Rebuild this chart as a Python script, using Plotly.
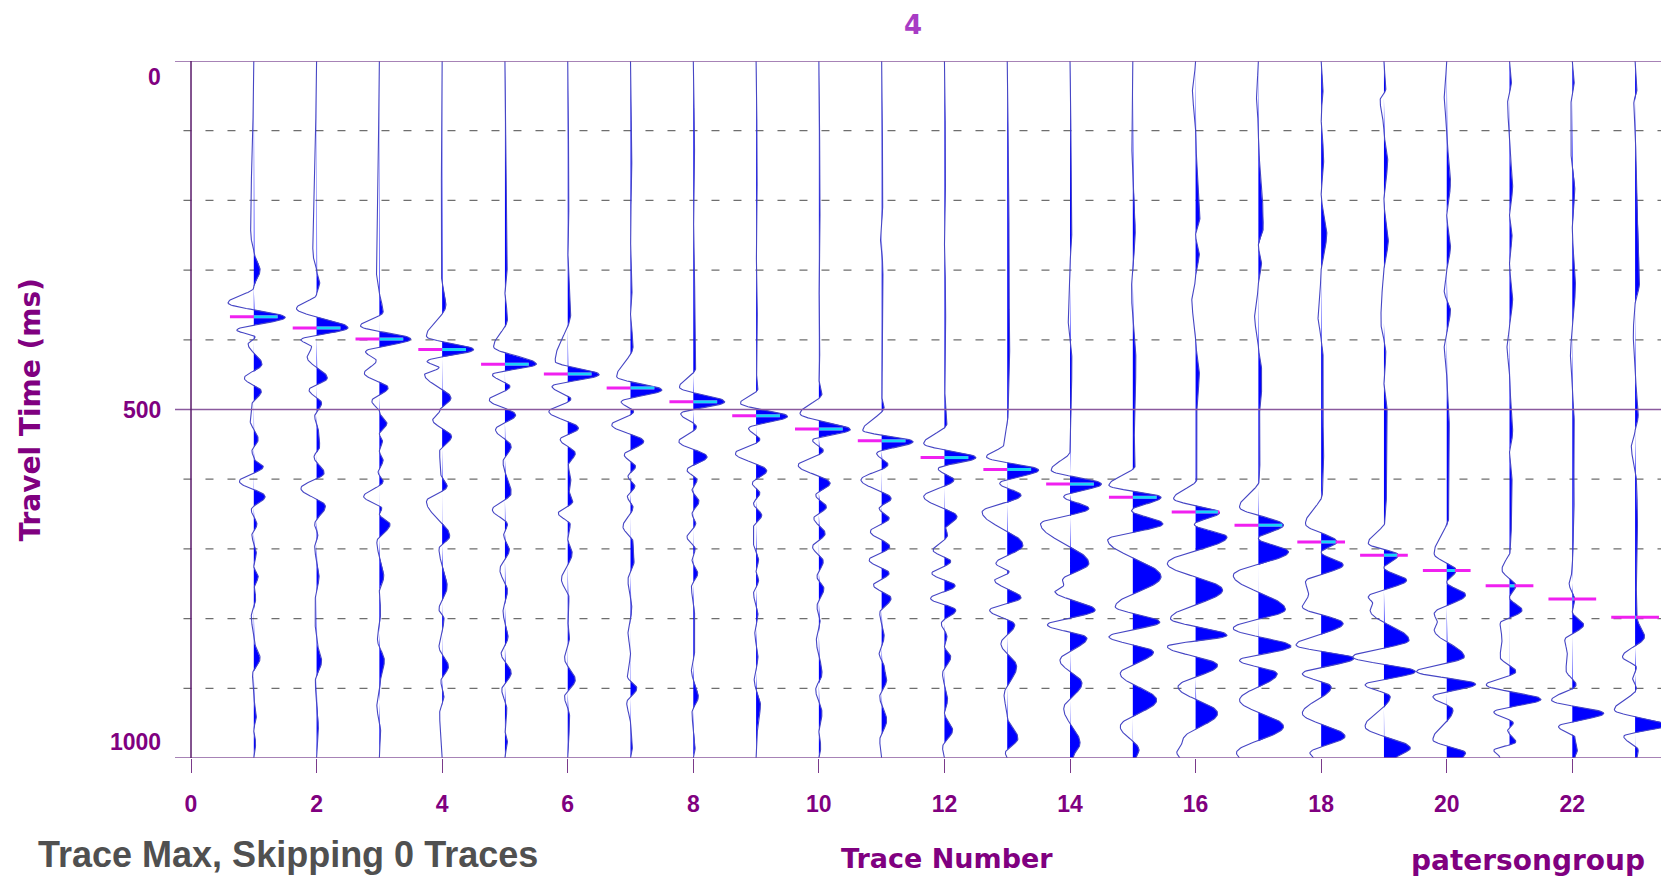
import numpy as np
import plotly.graph_objects as go

# ---------------- data ----------------
TITLE = "4"
TRACE_NUMBERS = list(range(1, 24))
# first-break pick time (ms) for each trace
PICK_TIMES = [367, 383, 399, 414, 435, 449, 469, 489, 509, 528, 545, 569,
              586, 607, 626, 647, 666, 690, 709, 731, 753, 772, 798]
X_TICKS = list(range(0, 23, 2))
Y_TICKS = [0, 500, 1000]
DASHED_TIMES = [100, 200, 300, 400, 600, 700, 800, 900]

# wiggle extrema for each trace: (time ms, amplitude in trace-spacing units)
ev01 = [(0,0),(250,-0.05),(272,0.0),(300,0.1),(325,0.0),(347,-0.41),(368,0.5),(386,-0.27),(396,0.02),(406,-0.09),(435,0.13),(455,-0.15),(474,0.12),(493,-0.03),(515,-0.06),(543,0.07),(560,-0.03),(570,0.0),(582,0.15),(603,-0.23),(625,0.18),(644,-0.04),(665,0.05),(680,-0.03),(706,0.04),(725,0.0),(740,0.07),(755,0.01),(771,0.03),(797,-0.04),(830,0.0),(857,0.1),(880,-0.02),(910,0.0),(940,0.04),(960,0.0),(979,0.03),(1000,0)]
ev02 = [(0,0),(276,-0.06),(300,0),(318,0.05),(335,0),(355,-0.32),(383,0.5),(400,-0.25),(410,-0.08),(425,-0.15),(455,0.17),(472,-0.12),(491,0.08),(510,-0.03),(530,0.03),(553,0.05),(568,-0.04),(591,0.12),(613,-0.25),(639,0.14),(665,-0.03),(680,0.02),(697,-0.03),(740,0.04),(770,-0.02),(800,-0.03),(830,0),(861,0.08),(890,-0.02),(950,0.03),(1000,0)]
ev03 = [(0,0),(300,-0.05),(330,0),(360,0.06),(380,-0.3),(399,0.5),(417,-0.22),(430,-0.05),(448,-0.24),(469,0.14),(488,-0.12),(503,0.0),(520,0.12),(535,0.0),(545,0.05),(560,0),(573,0.06),(590,-0.02),(603,0.06),(625,-0.25),(642,0.04),(650,0.0),(665,0.17),(690,-0.04),(740,0.07),(760,0.0),(790,0.02),(830,-0.03),(861,0.08),(885,0.02),(926,-0.04),(960,0.02),(1000,0)]
ev04 = [(0,0),(300,-0.02),(350,0.06),(395,-0.25),(414,0.5),(431,-0.24),(440,-0.05),(450,-0.28),(484,0.14),(500,-0.03),(515,-0.15),(539,0.15),(560,-0.04),(590,-0.03),(610,0.08),(632,-0.25),(682,0.12),(700,-0.05),(754,0.08),(787,-0.05),(800,0.03),(840,-0.05),(869,0.1),(890,-0.02),(910,0.03),(936,-0.04),(1000,0)]
ev05 = [(0,0),(290,0.04),(330,0.0),(370,0.04),(410,-0.18),(435,0.5),(450,-0.2),(467,0.08),(486,-0.25),(508,0.17),(529,-0.15),(553,0.1),(575,-0.03),(620,0.1),(644,-0.2),(665,0.04),(680,-0.02),(701,0.07),(730,-0.08),(760,0.04),(790,-0.03),(826,0.05),(850,-0.06),(878,0.1),(902,-0.05),(930,0.03),(960,0),(975,0.04),(1000,0)]
ev06 = [(0,0),(200,0.02),(260,0),(360,0.05),(431,-0.2),(450,0.5),(467,-0.25),(485,0.05),(503,-0.3),(527,0.17),(543,-0.12),(563,0.12),(580,0.01),(600,0.05),(615,0.02),(632,0.08),(649,-0.15),(665,0.04),(685,0),(706,0.07),(744,-0.1),(770,0.02),(800,0),(826,0.03),(857,-0.05),(888,0.12),(912,-0.05),(940,0.03),(970,0.02),(1000,0)]
ev07 = [(0,0),(150,0.02),(250,0),(320,0.03),(360,0),(410,0.04),(453,-0.22),(472,0.5),(489,-0.15),(503,0.05),(522,-0.3),(546,0.21),(565,-0.1),(582,0.08),(596,-0.04),(610,0.07),(625,-0.05),(640,0.04),(668,-0.12),(690,0.04),(716,0.06),(745,-0.04),(785,0.02),(820,-0.04),(850,0),(883,-0.05),(900,0.1),(921,-0.06),(950,0),(984,0.03),(1000,0)]
ev08 = [(0,0),(120,0.02),(200,0),(300,0.02),(400,0.03),(440,0.04),(468,-0.22),(489,0.5),(506,-0.2),(525,0.05),(546,-0.23),(568,0.22),(587,-0.1),(601,0.06),(615,-0.02),(632,0.09),(650,-0.02),(663,0.04),(683,-0.1),(700,0.03),(716,-0.02),(735,0.07),(755,-0.03),(790,0.02),(840,0.03),(874,-0.03),(912,0.08),(935,-0.02),(985,0.03),(1000,0)]
ev09 = [(0,0),(150,0.02),(250,0),(350,0.02),(440,0.0),(470,0.03),(491,-0.25),(510,0.5),(527,-0.12),(543,0.06),(563,-0.33),(588,0.17),(606,-0.06),(620,0.06),(635,-0.04),(652,0.09),(668,-0.04),(688,-0.05),(716,0.04),(732,0.0),(745,0.04),(764,-0.04),(793,0.03),(821,-0.02),(855,0.03),(888,-0.03),(924,0.07),(960,0.02),(1000,0)]
ev10 = [(0,0),(200,0.02),(300,0.0),(400,0.02),(455,0.0),(477,0.05),(506,-0.3),(529,0.5),(544,-0.1),(559,0.07),(580,-0.33),(606,0.18),(623,-0.05),(640,0.12),(656,-0.08),(678,0.1),(697,-0.1),(718,0.07),(740,-0.03),(757,0.08),(783,-0.03),(802,0.02),(831,-0.04),(879,0.05),(902,-0.05),(936,0.05),(960,0),(985,0.03),(1000,0)]
ev11 = [(0,0),(200,0.02),(250,-0.02),(300,0.02),(400,0.02),(480,0.0),(496,0.04),(530,-0.3),(546,0.5),(563,-0.08),(579,0.1),(601,-0.33),(628,0.15),(642,-0.04),(656,0.12),(675,-0.18),(697,0.13),(716,-0.2),(735,0.12),(752,-0.13),(771,0.15),(792,-0.03),(826,0.04),(850,-0.04),(869,0.04),(888,0.08),(912,-0.03),(946,0.08),(975,-0.03),(1000,0)]
ev12 = [(0,0),(150,0.02),(250,0.0),(350,0.02),(460,0.0),(520,0.04),(549,-0.33),(569,0.5),(585,-0.1),(601,0.15),(625,-0.33),(654,0.2),(670,0.02),(680,0.05),(702,-0.18),(718,0.1),(735,-0.2),(753,0.17),(771,-0.22),(788,0.18),(807,-0.05),(826,0.04),(840,0.0),(855,0.1),(879,-0.03),(917,0.05),(935,0),(960,0.13),(985,-0.03),(1000,0)]
ev13 = [(0,0),(200,0.03),(300,0.02),(400,0.04),(500,0.02),(550,-0.05),(568,-0.33),(587,0.5),(606,-0.12),(623,0.22),(647,-0.4),(695,0.25),(721,-0.18),(733,0.03),(745,-0.2),(770,0.22),(788,-0.28),(809,0.12),(836,-0.1),(869,0.15),(910,-0.05),(940,0.0),(972,0.17),(993,-0.03),(1000,0)]
ev14 = [(0,0),(150,0.02),(238,0.03),(300,0.0),(367,-0.03),(430,0.03),(500,0.02),(560,0.0),(587,-0.3),(607,0.5),(625,-0.1),(642,0.3),(664,-0.47),(721,0.3),(745,-0.12),(752,-0.1),(761,-0.24),(788,0.4),(809,-0.36),(828,0.27),(860,-0.16),(893,0.19),(929,-0.1),(979,0.16),(1000,0.05)]
ev15 = [(0,0),(100,-0.02),(240,0.04),(330,-0.02),(434,0.05),(520,0.02),(580,0.04),(609,-0.38),(626,0.45),(645,-0.02),(664,0.48),(687,-0.4),(740,0.45),(783,-0.28),(805,0.43),(826,-0.38),(848,0.33),(879,-0.2),(917,0.38),(955,-0.2),(989,0.1),(1000,0.05)]
ev16 = [(0,0),(42,-0.05),(100,0),(224,0.07),(250,0.0),(276,0.06),(310,0),(343,-0.06),(400,0),(448,0.06),(500,0.02),(560,0.03),(600,0.02),(628,-0.35),(648,0.38),(665,-0.02),(683,0.5),(721,-0.45),(759,0.43),(800,-0.4),(824,0.5),(840,-0.45),(867,0.35),(898,-0.28),(936,0.35),(974,-0.2),(993,-0.3),(1000,-0.25)]
ev17 = [(0,0),(50,-0.03),(100,0.0),(238,0.08),(265,0.0),(290,0.05),(320,0),(367,-0.06),(410,0.0),(440,0.05),(463,0.06),(500,0.02),(550,0.03),(600,0.02),(640,-0.3),(666,0.4),(685,0.0),(704,0.48),(738,-0.4),(787,0.43),(814,-0.4),(840,0.52),(860,-0.3),(879,0.3),(917,-0.3),(955,0.4),(993,-0.35),(1000,-0.3)]
ev18 = [(0,0),(40,0.03),(80,0.0),(142,0.04),(190,0.0),(248,0.09),(300,0.0),(367,-0.05),(400,0),(420,0.03),(480,0.02),(560,0.04),(620,0.02),(664,-0.25),(690,0.25),(705,0.0),(723,0.35),(747,-0.25),(765,-0.2),(783,-0.3),(807,0.35),(838,-0.4),(857,0.52),(879,-0.3),(898,0.16),(936,-0.3),(969,0.38),(993,-0.18),(1000,-0.12)]
ev19 = [(0,0),(40,0.03),(56,-0.06),(100,0.0),(142,0.06),(200,0.0),(257,0.07),(300,0.0),(330,-0.03),(372,-0.05),(420,0.03),(460,0.0),(500,0.05),(560,0.05),(620,0.04),(660,0.02),(692,-0.25),(709,0.23),(727,0.0),(745,0.36),(769,-0.25),(778,-0.18),(788,-0.22),(831,0.4),(855,-0.5),(876,0.5),(895,-0.3),(912,0.1),(955,-0.3),(986,0.42),(1000,0.2)]
ev20 = [(0,0),(50,-0.04),(100,0.0),(176,0.06),(220,0.0),(267,0.06),(300,0.0),(330,-0.04),(358,0.06),(390,0.0),(410,-0.04),(450,0.0),(520,0.04),(600,0.03),(650,0.04),(707,-0.2),(731,0.15),(748,0.0),(766,0.3),(793,-0.2),(805,-0.15),(816,-0.2),(855,0.28),(876,-0.48),(894,0.46),(912,-0.22),(931,0.1),(974,-0.22),(993,0.3),(1000,0.25)]
ev21 = [(0,0),(30,0.03),(60,-0.03),(120,0.0),(181,0.05),(220,0.0),(250,0.04),(290,0.0),(343,0.05),(380,0.0),(410,-0.04),(450,0.0),(534,0.05),(560,0.0),(600,0.04),(660,0.03),(700,0.02),(730,-0.12),(753,0.1),(770,0.0),(788,0.2),(807,-0.15),(830,-0.12),(855,-0.15),(876,0.1),(895,-0.37),(916,0.5),(934,-0.25),(950,0.06),(960,-0.03),(977,0.1),(989,-0.25),(1000,-0.15)]
ev22 = [(0,0),(30,0.03),(60,-0.02),(120,-0.03),(181,0.04),(240,0.0),(324,0.05),(380,0.0),(420,-0.03),(470,0.0),(510,0.03),(560,0.02),(620,0.03),(680,0.02),(730,0.0),(750,-0.05),(772,0.04),(790,0.0),(809,0.18),(831,-0.12),(850,-0.08),(874,-0.1),(895,0.06),(917,-0.33),(936,0.5),(955,-0.22),(970,0.04),(989,0.08),(1000,0.04)]
ev23 = [(0,0),(40,0.03),(60,-0.02),(120,0.01),(170,0.02),(319,0.07),(350,0.0),(390,-0.03),(440,0.0),(510,0.05),(530,0.0),(553,-0.06),(600,0.02),(650,0.04),(700,0.03),(760,0.02),(798,0.03),(826,0.15),(855,-0.2),(870,0.02),(885,-0.04),(900,0.02),(931,-0.33),(953,0.5),(969,-0.18),(989,0.05),(1000,0.03)]

EVENTS = [ev01, ev02, ev03, ev04, ev05, ev06, ev07, ev08, ev09, ev10, ev11, ev12,
          ev13, ev14, ev15, ev16, ev17, ev18, ev19, ev20, ev21, ev22, ev23]

# ---------------- styling ----------------
PURPLE = "#800080"
GRID_PURPLE = "#8a5a9e"
WIGGLE_LINE = "#4646c4"
WIGGLE_FILL = "#0000ff"
PICK_MAGENTA = "#f020f0"
PICK_CYAN = "#18d4f8"
PICK_HALF = 0.38

t = np.arange(0, 1001, 1.0)


def wiggle(events, tt):
    T = np.array([e[0] for e in events], float)
    A = np.array([e[1] for e in events], float)
    idx = np.clip(np.searchsorted(T, tt, side="right") - 1, 0, len(T) - 2)
    t0, t1 = T[idx], T[idx + 1]
    s = np.clip((tt - t0) / (t1 - t0), 0, 1)
    return A[idx] + (A[idx + 1] - A[idx]) * (1 - np.cos(np.pi * s)) / 2


fig = go.Figure()

for k, ev in zip(TRACE_NUMBERS, EVENTS):
    amp = wiggle(ev, t)
    pos = np.maximum(amp, 0)
    fig.add_trace(go.Scatter(
        x=np.concatenate([k + pos, [k, k]]),
        y=np.concatenate([t, [t[-1], t[0]]]),
        mode="lines", fill="toself", fillcolor=WIGGLE_FILL,
        line=dict(width=0, color=WIGGLE_FILL), hoverinfo="skip", showlegend=False))
    fig.add_trace(go.Scatter(
        x=k + amp, y=t, mode="lines",
        line=dict(width=1.1, color=WIGGLE_LINE),
        hoverinfo="skip", showlegend=False))

# first-break picks
for k, ev, tp in zip(TRACE_NUMBERS, EVENTS, PICK_TIMES):
    a = float(wiggle(ev, np.array([float(tp)]))[0])
    fig.add_trace(go.Scatter(
        x=[k - PICK_HALF, k + PICK_HALF], y=[tp, tp], mode="lines",
        line=dict(width=3, color=PICK_MAGENTA), hoverinfo="skip", showlegend=False))
    cyan_len = min(PICK_HALF, max(a - 0.02, 0.015))
    fig.add_trace(go.Scatter(
        x=[k, k + cyan_len], y=[tp, tp], mode="lines",
        line=dict(width=3, color=PICK_CYAN), hoverinfo="skip", showlegend=False))

shapes = []
for yv in DASHED_TIMES:
    shapes.append(dict(type="line", xref="x", yref="y", x0=-0.12, x1=23.6, y0=yv, y1=yv,
                       line=dict(color="#6e6e6e", width=1.2, dash="8px,14px"), layer="below"))
for yv in Y_TICKS:
    shapes.append(dict(type="line", xref="paper", yref="y", x0=0, x1=1, y0=yv, y1=yv,
                       line=dict(color=GRID_PURPLE, width=1.5), layer="above"))
shapes.append(dict(type="line", xref="x", yref="y", x0=0, x1=0, y0=0, y1=1000,
                   line=dict(color="#5a1a6a", width=1.5), layer="above"))

annotations = []
shifts = {0: -16, 500: 0, 1000: 16}
for yv in Y_TICKS:
    annotations.append(dict(text=str(yv), xref="paper", yref="y", x=-0.008, y=yv,
                            xanchor="right", yanchor="middle", yshift=shifts[yv], showarrow=False,
                            font=dict(family="Liberation Sans", size=23, color=PURPLE, weight="bold")))
annotations += [
    dict(text=TITLE, xref="paper", yref="paper", x=0.494, y=1.052, showarrow=False,
         xanchor="center", yanchor="middle",
         font=dict(family="DejaVu Sans", size=26, color="#a83cc4", weight="bold")),
    dict(text="Travel Time (ms)", xref="paper", yref="paper", x=-0.0964, y=0.5, textangle=-90,
         showarrow=False, xanchor="center", yanchor="middle",
         font=dict(family="DejaVu Sans", size=28, color=PURPLE, weight="bold")),
    dict(text="Trace Number", xref="paper", yref="paper", x=0.5167, y=-0.1435, showarrow=False,
         xanchor="center", yanchor="middle",
         font=dict(family="DejaVu Sans", size=27, color=PURPLE, weight="bold")),
    dict(text="Trace Max, Skipping 0 Traces", xref="paper", yref="paper", x=-0.093, y=-0.139,
         showarrow=False, xanchor="left", yanchor="middle",
         font=dict(family="Liberation Sans", size=36, color="#505050", weight="bold")),
    dict(text="patersongroup", xref="paper", yref="paper", x=0.9853, y=-0.1476, showarrow=False,
         xanchor="right", yanchor="middle",
         font=dict(family="DejaVu Sans", size=28, color=PURPLE, weight="bold")),
]

# the page body adds an 8px offset, so the figure is 8px smaller and margins are reduced by 8
fig.update_layout(
    width=1661, height=873,
    margin=dict(l=167, r=0, t=53, b=123),
    paper_bgcolor="white", plot_bgcolor="white",
    showlegend=False,
    shapes=shapes, annotations=annotations,
    xaxis=dict(range=[-0.255, 23.54], showgrid=False, zeroline=False, showline=False,
               tickmode="array", tickvals=X_TICKS, ticktext=[str(v) for v in X_TICKS],
               ticks="outside", ticklen=14, tickwidth=1.3, tickcolor="#7a3a8a",
               ticklabelstandoff=11,
               tickfont=dict(family="Liberation Sans", size=23, color=PURPLE, weight="bold")),
    yaxis=dict(range=[1000, 0], showgrid=False, zeroline=False, showline=False,
               showticklabels=False, ticks=""),
)

fig.write_html("out.html")
